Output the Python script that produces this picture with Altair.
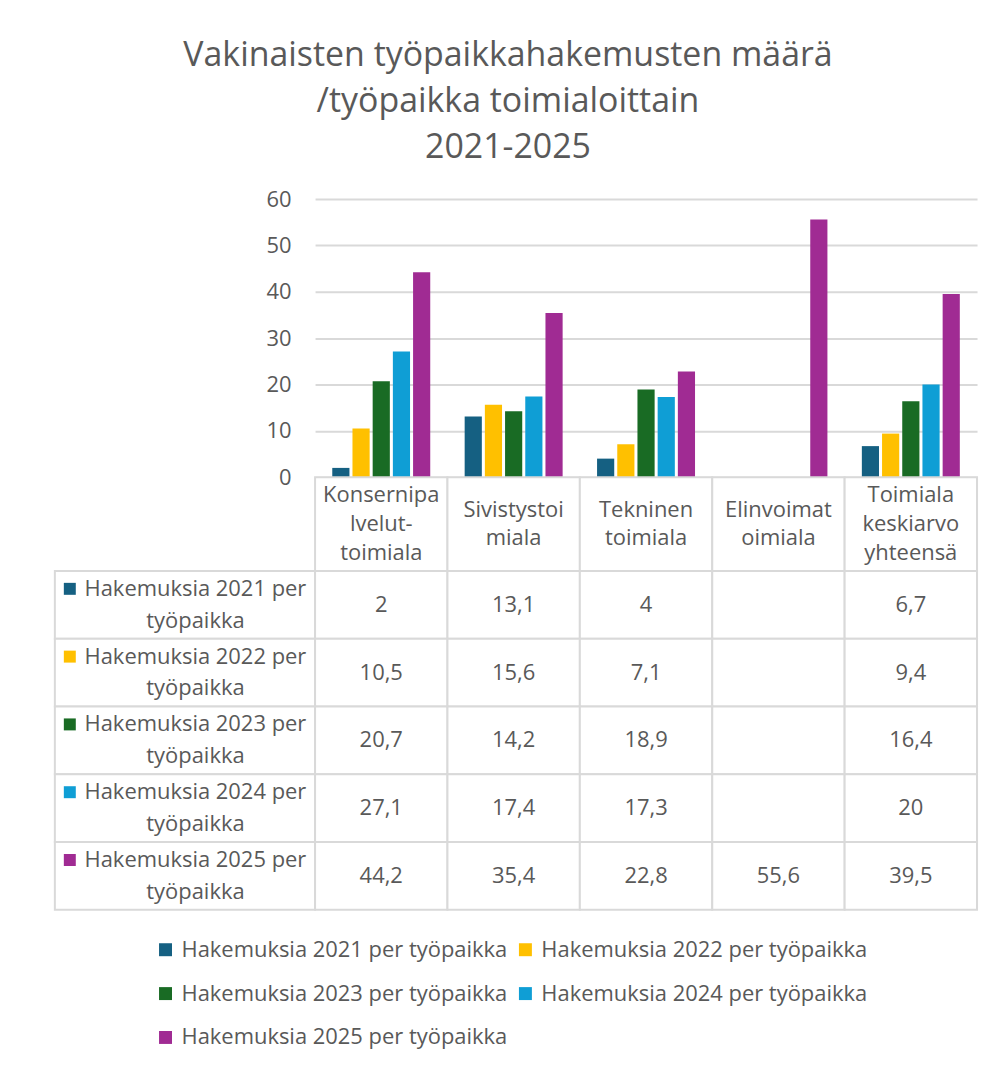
import altair as alt
import pandas as pd

FONT = "Open Sans"
TXT = "#595959"
GRID = "#d9d9d9"
FS = 22

categories = ["Konsernipalvelut-toimiala", "Sivistystoimiala", "Tekninen toimiala",
              "Elinvoimatoimiala", "Toimiala keskiarvo yhteensä"]
category_labels = ["Konsernipa\nlvelut-\ntoimiala", "Sivistystoi\nmiala", "Tekninen\ntoimiala",
                   "Elinvoimat\noimiala", "Toimiala\nkeskiarvo\nyhteensä"]
series = ["Hakemuksia 2021 per työpaikka", "Hakemuksia 2022 per työpaikka",
          "Hakemuksia 2023 per työpaikka", "Hakemuksia 2024 per työpaikka",
          "Hakemuksia 2025 per työpaikka"]
series_row_labels = ["Hakemuksia 2021 per\ntyöpaikka", "Hakemuksia 2022 per\ntyöpaikka",
                     "Hakemuksia 2023 per\ntyöpaikka", "Hakemuksia 2024 per\ntyöpaikka",
                     "Hakemuksia 2025 per\ntyöpaikka"]
colors = ["#156082", "#FFC000", "#196B24", "#0F9ED5", "#A02B93"]

v2021 = [2, 13.1, 4, None, 6.7]
v2022 = [10.5, 15.6, 7.1, None, 9.4]
v2023 = [20.7, 14.2, 18.9, None, 16.4]
v2024 = [27.1, 17.4, 17.3, None, 20]
v2025 = [44.2, 35.4, 22.8, 55.6, 39.5]
y_ticks = [0, 10, 20, 30, 40, 50, 60]


def fmt(v):
    return "" if v is None else f"{v:g}".replace(".", ",")


rows = []
for s, vals in zip(series, [v2021, v2022, v2023, v2024, v2025]):
    for c, v in zip(categories, vals):
        rows.append({"category": c, "series": s, "value": v, "label": fmt(v)})
df = pd.DataFrame(rows)
cat_df = pd.DataFrame({"category": categories, "label": category_labels,
                       "nlines": [l.count("\n") + 1 for l in category_labels]})
ser_df = pd.DataFrame({"series": series, "label": series_row_labels})

legend = alt.Legend(
    title=None, orient="none", legendX=100, legendY=742, columns=2, direction="horizontal",
    symbolType="square", symbolSize=169, symbolStrokeWidth=0,
    labelFontSize=FS, labelColor=TXT, labelFont=FONT, labelLimit=500,
    columnPadding=7, rowPadding=22, labelOffset=5,
)
color = alt.Color("series:N", sort=series,
                  scale=alt.Scale(domain=series, range=colors), legend=legend)

NO_VIEW = alt.ViewBackground(stroke="transparent", strokeWidth=0)
W_LEFT, W_PLOT = 261, 664
H_PLOT, H_HDR, H_ROWS = 279, 94, 340
LH_HDR, LH_ROW = 29, 32

cat_x = alt.X("category:N", sort=categories,
              scale=alt.Scale(paddingInner=0, paddingOuter=0), axis=None)
ser_y = alt.Y("series:N", sort=series,
              scale=alt.Scale(paddingInner=0, paddingOuter=0), axis=None)

# ---- Row A: bars
spacer_a = alt.Chart(cat_df).mark_point(opacity=0).properties(
    width=W_LEFT, height=H_PLOT, view=NO_VIEW)
bars = alt.Chart(df).transform_filter("isValid(datum.value)").mark_bar().encode(
    x=alt.X("category:N", sort=categories,
            scale=alt.Scale(paddingInner=0.26, paddingOuter=0.13), axis=None),
    xOffset=alt.XOffset("series:N", sort=series, scale=alt.Scale(paddingInner=0.15)),
    y=alt.Y("value:Q", scale=alt.Scale(domain=[0, 60]),
            axis=alt.Axis(values=y_ticks, title=None, domain=False, ticks=False,
                          labelPadding=24, labelFontSize=FS, labelColor=TXT,
                          labelFont=FONT, gridColor=GRID, gridWidth=2)),
    color=color,
).properties(width=W_PLOT, height=H_PLOT, view=NO_VIEW)

# ---- Row B: category header cells
spacer_b = alt.Chart(cat_df).mark_point(opacity=0).properties(
    width=W_LEFT, height=H_HDR, view=NO_VIEW)
hdr_base = alt.Chart(cat_df).encode(x=cat_x)
hdr_layers = [hdr_base.mark_rect(fill="white", stroke=GRID, strokeWidth=2)]
for n in (2, 3):
    hdr_layers.append(
        hdr_base.transform_filter(f"datum.nlines == {n}").mark_text(
            lineBreak="\n", lineHeight=LH_HDR, fontSize=FS, color=TXT, font=FONT,
            baseline="middle", dy=-(n - 1) * LH_HDR / 2,
        ).encode(text="label:N", y=alt.value(H_HDR / 2))
    )
hdr = alt.layer(*hdr_layers).properties(width=W_PLOT, height=H_HDR, view=NO_VIEW)

# ---- Row C: data table
left_base = alt.Chart(ser_df).encode(y=ser_y)
left = alt.layer(
    left_base.mark_rect(fill="white", stroke=GRID, strokeWidth=2),
    left_base.mark_square(size=144, opacity=1, yOffset=-LH_ROW / 2).encode(
        x=alt.value(15), color=color),
    left_base.mark_text(lineBreak="\n", lineHeight=LH_ROW, fontSize=FS, color=TXT,
                        font=FONT, baseline="middle", dy=-LH_ROW / 2).encode(
        text="label:N", x=alt.value(141)),
).properties(width=W_LEFT, height=H_ROWS, view=NO_VIEW)

cell_base = alt.Chart(df).encode(x=cat_x, y=ser_y)
cells = alt.layer(
    cell_base.mark_rect(fill="white", stroke=GRID, strokeWidth=2),
    cell_base.mark_text(fontSize=FS, color=TXT, font=FONT, baseline="middle").encode(
        text="label:N"),
).properties(width=W_PLOT, height=H_ROWS, view=NO_VIEW)

chart = alt.concat(spacer_a, bars, spacer_b, hdr, left, cells,
                   columns=2, spacing=0, bounds="flush").properties(
    title=alt.Title(
        ["Vakinaisten työpaikkahakemusten  määrä", "/työpaikka toimialoittain", "2021-2025"],
        fontSize=34, fontWeight="normal", color=TXT, font=FONT, lineHeight=46,
        anchor="middle", offset=23, dx=-8),
    padding={"left": 46, "top": 30, "right": 8, "bottom": 8},
    background="white",
).configure(font=FONT).configure_view(stroke="transparent", strokeWidth=0)

chart.save("out.html", embed_options={"renderer": "svg", "actions": False})
